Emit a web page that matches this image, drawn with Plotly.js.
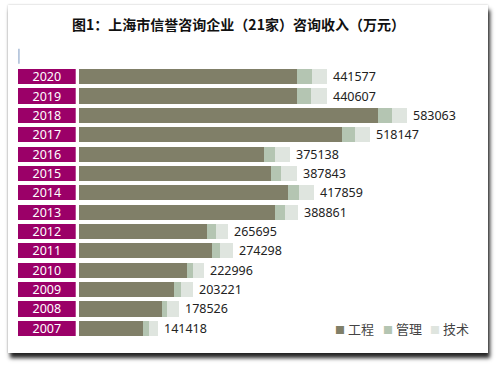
<!DOCTYPE html>
<html>
<head>
<meta charset="utf-8">
<script src="https://cdn.plot.ly/plotly-3.0.1.min.js"></script>
<style>
  html, body { margin: 0; padding: 0; background: #ffffff; }
  #frame { position: absolute; left: 8px; top: 5px; width: 480px; height: 348px;
           background: #ffffff; box-shadow: 2px 5px 4px rgba(0,0,0,0.85), 0 0 2px rgba(0,0,0,0.25); }
  #chart { position: absolute; left: 0; top: 0; width: 496px; height: 367px; }
</style>
</head>
<body>
<div id="frame"></div>
<div id="chart"></div>
<script>
// Data (bottom to top)
const years = ["2007","2008","2009","2010","2011","2012","2013","2014","2015","2016","2017","2018","2019","2020"];
const engineering = [114300, 147700, 170000, 192100, 237500, 227600, 348800, 371300, 341700, 329800, 468200, 532100, 388400, 387300];
const management  = [9940, 8900, 11900, 11700, 13670, 16500, 17750, 20600, 17750, 19000, 22540, 23800, 24850, 27700];
const technology  = [17178, 21926, 21321, 19196, 23128, 21595, 22311, 25959, 28393, 26338, 27407, 27163, 27357, 26577];
const totals      = [141418, 178526, 203221, 222996, 274298, 265695, 388861, 417859, 387843, 375138, 518147, 583063, 440607, 441577];
const seriesNames = ["工程", "管理", "技术"];
const colors = ["#807f68", "#b4c5b2", "#dfe5df"];

const traces = [
  { type: "bar", orientation: "h", y: years, x: years.map(() => 1), xaxis: "x2", yaxis: "y",
    marker: { color: "#9b0068" }, text: years, textposition: "inside", insidetextanchor: "middle",
    constraintext: "none",
    textfont: { family: "Noto Sans", size: 12.5, color: "#ffffff" }, hoverinfo: "skip", showlegend: false },
  { type: "bar", orientation: "h", y: years, x: engineering, name: seriesNames[0], marker: { color: colors[0] }, showlegend: false },
  { type: "bar", orientation: "h", y: years, x: management, name: seriesNames[1], marker: { color: colors[1] }, showlegend: false },
  { type: "bar", orientation: "h", y: years, x: technology, name: seriesNames[2], marker: { color: colors[2] }, showlegend: false }
];

// value labels: y given as category index on the category axis
const annotations = years.map((yr, i) => ({
  x: totals[i], y: i, xref: "x", yref: "y", text: String(totals[i]),
  xanchor: "left", yanchor: "middle", xshift: 4, showarrow: false,
  font: { family: "Noto Sans", size: 12.5, color: "#222222" }
}));

// legend built as text
const legendX = [333, 381, 428];
seriesNames.forEach((n, i) => {
  annotations.push({
    xref: "paper", yref: "paper", x: (legendX[i] - 18) / 462, y: (337.7 - 328) / 270.5,
    xanchor: "left", yanchor: "middle", showarrow: false,
    text: '<span style="color:' + colors[i] + ';font-size:10px">■</span> ' + n,
    font: { family: "Noto Sans CJK SC", size: 13, color: "#444444" }
  });
});

const layout = {
  width: 496, height: 367,
  paper_bgcolor: "rgba(0,0,0,0)", plot_bgcolor: "rgba(0,0,0,0)",
  margin: { l: 18, r: 16, t: 67.1, b: 29.3, pad: 0 },
  barmode: "stack", bargap: 0.22,
  showlegend: false,
  uniformtext: { mode: false },
  title: { text: "<b>图1：上海市信誉咨询企业（21家）咨询收入（万元）</b>",
           x: 238.5 / 496, xanchor: "center", xref: "container",
           y: 1 - 25 / 367, yanchor: "middle", yref: "container",
           font: { family: "Noto Sans CJK SC", size: 14, color: "#111111" } },
  xaxis: { domain: [0.131, 1], range: [0, 712700], visible: false, fixedrange: true },
  xaxis2: { domain: [0, 0.1249], range: [0, 1], visible: false, anchor: "y", fixedrange: true },
  yaxis: { type: "category", categoryorder: "array", categoryarray: years, range: [-0.5, years.length - 0.5],
           autorange: false, visible: false, fixedrange: true },
  annotations: annotations,
  shapes: [
    { type: "line", xref: "paper", yref: "paper", x0: 0.002, x1: 0.002,
      y0: (337.7 - 49) / 270.5, y1: (337.7 - 64) / 270.5,
      line: { color: "#a9bcd6", width: 1.5 } }
  ]
};

Plotly.newPlot("chart", traces, layout, { displayModeBar: false, staticPlot: true });
</script>
</body>
</html>
